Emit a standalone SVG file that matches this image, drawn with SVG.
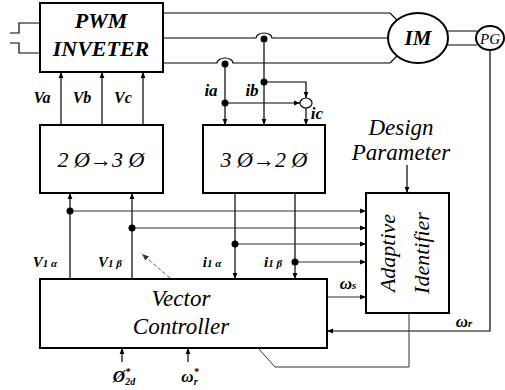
<svg xmlns="http://www.w3.org/2000/svg" width="505" height="390" viewBox="0 0 505 390">
<style>
.box{fill:#fff;stroke:#000;stroke-width:2}
.ln{fill:none;stroke:#000;stroke-width:1.2}
.thin{fill:none;stroke:#333;stroke-width:1}
.dot{fill:#000}
.t{font-family:"Liberation Serif","Times New Roman",serif;font-style:italic;fill:#000}
.b{font-weight:bold}
</style>
<defs>
<marker id="ar" viewBox="0 0 10 10" refX="10" refY="5" markerWidth="6" markerHeight="6" orient="auto" markerUnits="userSpaceOnUse">
<path d="M0,1 L10,5 L0,9 Z" fill="#000"/>
</marker>
<marker id="arg" viewBox="0 0 10 10" refX="10" refY="5" markerWidth="7" markerHeight="7" orient="auto" markerUnits="userSpaceOnUse">
<path d="M0,1 L10,5 L0,9 Z" fill="#333"/>
</marker>
</defs>
<rect width="505" height="390" fill="#fff"/>

<g id="connectors">
<path class="ln" d="M40,23 H19 V33 H10 M10,43 H19 V53 H40"/>
<path class="ln" d="M163,13 H390 L397,20"/>
<path class="ln" d="M163,38 H256 A8,5 0 0 1 272,38 H388"/>
<path class="ln" d="M163,63 H217 A8,5 0 0 1 233,63 H390 L397,56"/>
<path class="ln" d="M447,31 H477 M447,45 H477"/>
<path class="ln" d="M61,125 V72" marker-end="url(#ar)"/>
<path class="ln" d="M102,125 V72" marker-end="url(#ar)"/>
<path class="ln" d="M143,125 V72" marker-end="url(#ar)"/>
<path class="ln" d="M225,64 V125" marker-end="url(#ar)"/>
<path class="ln" d="M264,39 V125" marker-end="url(#ar)"/>
<path class="ln" d="M225,103 H300" marker-end="url(#ar)"/>
<path class="ln" d="M264,82 H306 V98" marker-end="url(#ar)"/>
<path class="ln" d="M306,108 V125" marker-end="url(#ar)"/>
<path class="ln" d="M70,279 V193" marker-end="url(#ar)"/>
<path class="ln" d="M132,279 V193" marker-end="url(#ar)"/>
<path class="thin" d="M70,211 H366" marker-end="url(#ar)"/>
<path class="thin" d="M132,228 H366" marker-end="url(#ar)"/>
<path class="ln" d="M235,193 V279" marker-end="url(#ar)"/>
<path class="ln" d="M295,193 V279" marker-end="url(#ar)"/>
<path class="thin" d="M235,244 H366" marker-end="url(#ar)"/>
<path class="thin" d="M295,262 H366" marker-end="url(#ar)"/>
<path class="thin" d="M327,297 H366" marker-end="url(#ar)"/>
<path class="ln" d="M407,165 V193" marker-end="url(#ar)"/>
<path class="ln" d="M490,50 V331 H327" marker-end="url(#ar)"/>
<path class="thin" d="M409,313 V367 H275 L258,348"/>
<path d="M170,278 L142,254" fill="none" stroke="#555" stroke-width="0.9" stroke-dasharray="4,2" marker-end="url(#arg)"/>
<path class="ln" d="M122,362 V348" marker-end="url(#ar)"/>
<path class="ln" d="M188,362 V348" marker-end="url(#ar)"/>
<circle class="dot" cx="225" cy="64" r="3.5"/>
<circle class="dot" cx="264" cy="39" r="3.5"/>
<circle class="dot" cx="225" cy="103" r="3.5"/>
<circle class="dot" cx="264" cy="82" r="3.5"/>
<circle class="dot" cx="70" cy="211" r="3.5"/>
<circle class="dot" cx="132" cy="228" r="3.5"/>
<circle class="dot" cx="235" cy="244" r="3.5"/>
<circle class="dot" cx="295" cy="262" r="3.5"/>
<text class="t b" x="42" y="103" font-size="16" text-anchor="middle">Va</text>
<text class="t b" x="82" y="103" font-size="16" text-anchor="middle">Vb</text>
<text class="t b" x="123" y="103" font-size="16" text-anchor="middle">Vc</text>
<text class="t b" x="211" y="96" font-size="17" text-anchor="middle">ia</text>
<text class="t b" x="252" y="96" font-size="17" text-anchor="middle">ib</text>
<text class="t b" x="317" y="119" font-size="17" text-anchor="middle">ic</text>
<text class="t b" x="45" y="267" font-size="15" text-anchor="middle">V<tspan font-size="11">1 α</tspan></text>
<text class="t b" x="110" y="267" font-size="15" text-anchor="middle">V<tspan font-size="11">1 β</tspan></text>
<text class="t b" x="212" y="267" font-size="15" text-anchor="middle">i<tspan font-size="11">1 α</tspan></text>
<text class="t b" x="273" y="267" font-size="15" text-anchor="middle">i<tspan font-size="11">1 β</tspan></text>
<text class="t b" x="348" y="289" font-size="17" text-anchor="middle">ω<tspan font-size="11">s</tspan></text>
<text class="t b" x="464" y="327" font-size="17" text-anchor="middle">ω<tspan font-size="11">r</tspan></text>
<text class="t b" x="124" y="382" font-size="17" text-anchor="middle">Ø<tspan font-size="10" dy="-7">*</tspan><tspan font-size="10" dy="10" dx="-5">2d</tspan></text>
<text class="t b" x="190" y="382" font-size="17" text-anchor="middle">ω<tspan font-size="10" dy="-7">*</tspan><tspan font-size="10" dy="10" dx="-5">r</tspan></text>
<text class="t" x="401" y="135" font-size="23" text-anchor="middle">Design</text>
<text class="t" x="401" y="160" font-size="23" text-anchor="middle">Parameter</text>
</g>

<g id="pwm">
<rect class="box" x="40" y="3" width="123" height="69"/>
<text class="t b" x="101" y="28" font-size="22" text-anchor="middle">PWM</text>
<text class="t b" x="101" y="56" font-size="22" text-anchor="middle">INVETER</text>
</g>
<g id="im">
<ellipse class="box" cx="418" cy="38" rx="30" ry="25"/>
<text class="t b" x="418" y="45" font-size="21" text-anchor="middle">IM</text>
</g>
<g id="pg">
<ellipse class="box" cx="490" cy="38" rx="14" ry="12"/>
<text class="t" x="490" y="44" font-size="15" text-anchor="middle">PG</text>
</g>
<g id="sum">
<ellipse class="ln" cx="306" cy="103" rx="6" ry="5" fill="#fff"/>
</g>
<g id="conv23">
<rect class="box" x="40" y="125" width="123" height="68"/>
<text class="t" x="101" y="167" font-size="22" text-anchor="middle">2 Ø→3 Ø</text>
</g>
<g id="conv32">
<rect class="box" x="203" y="125" width="122" height="68"/>
<text class="t" x="264" y="167" font-size="22" text-anchor="middle">3 Ø→2 Ø</text>
</g>
<g id="identifier">
<rect class="box" x="366" y="193" width="83" height="120"/>
<text class="t" transform="translate(395,253) rotate(-90)" font-size="22" text-anchor="middle">Adaptive</text>
<text class="t" transform="translate(429,253) rotate(-90)" font-size="22" text-anchor="middle">Identifier</text>
</g>
<g id="controller">
<rect class="box" x="40" y="279" width="287" height="69"/>
<text class="t" x="181" y="306" font-size="23" text-anchor="middle">Vector</text>
<text class="t" x="181" y="334" font-size="23" text-anchor="middle">Controller</text>
</g>
</svg>
